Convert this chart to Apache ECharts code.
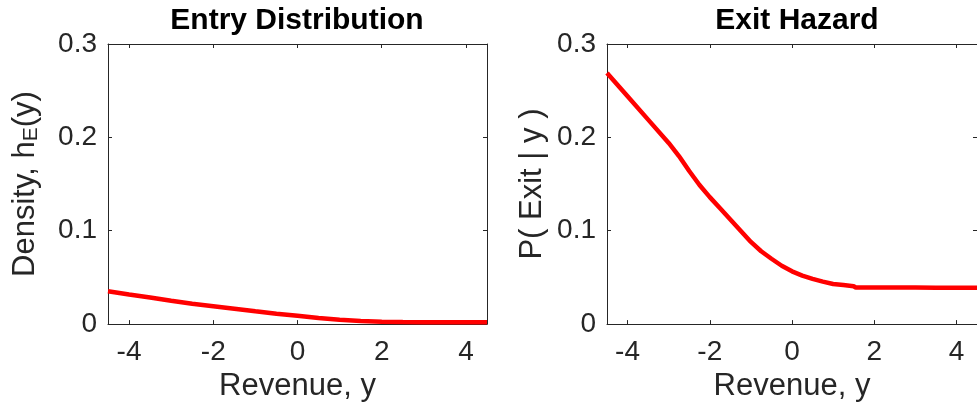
<!DOCTYPE html>
<html>
<head>
<meta charset="utf-8" />
<title>Entry Distribution / Exit Hazard</title>
<script src="https://cdn.jsdelivr.net/npm/echarts@6/dist/echarts.min.js"></script>
<style>
  body { margin: 0; background: #fff; }
  #container { width: 977px; height: 407px; }
</style>
</head>
<body>
<div id="container"></div>
<script>
// revenue grid shared by both panels
var xTicks = [-4, -2, 0, 2, 4];
var yTicks = [0, 0.1, 0.2, 0.3];

// entry distribution h_E(y)
var entryX = [-4.5, -4, -3.5, -3, -2.5, -2, -1.5, -1, -0.5, 0, 0.5, 1, 1.5, 2, 2.5, 3, 3.5, 4, 4.5];
var entryY = [0.0351, 0.0316, 0.0285, 0.0250, 0.0218, 0.0192, 0.0165, 0.0137, 0.0112, 0.0089,
              0.0066, 0.0046, 0.0032, 0.0025, 0.0022, 0.0021, 0.0021, 0.0021, 0.0021];

// exit hazard P(Exit | y)
var exitX = [-4.5, -4, -3.5, -3, -2.75, -2.5, -2.25, -2, -1.75, -1.5, -1.25, -1, -0.75, -0.5, -0.25,
             0, 0.25, 0.5, 0.75, 1, 1.25, 1.5, 1.55, 2, 2.5, 3, 3.5, 4, 4.5];
var exitY = [0.269, 0.244, 0.219, 0.194, 0.180, 0.164, 0.149, 0.136, 0.124, 0.112, 0.100, 0.088, 0.078, 0.070, 0.0625,
             0.0565, 0.052, 0.0485, 0.0455, 0.043, 0.0418, 0.0405, 0.0392, 0.0392, 0.0392, 0.0391, 0.039, 0.039, 0.0388];

function pairs(xs, ys) {
  return xs.map(function (x, i) { return [x, ys[i]]; });
}

var FONT = '"Liberation Sans", Arial, sans-serif';
var AX = '#262626';

function xAxisFor(gi, show) {
  return {
    type: 'value', gridIndex: gi, min: -4.5, max: 4.5,
    position: show ? 'bottom' : 'top',
    name: show ? 'Revenue, y' : '', nameLocation: 'middle', nameGap: 46,
    nameTextStyle: { fontFamily: FONT, fontSize: 31, color: AX },
    axisLine: { show: true, onZero: false, lineStyle: { color: AX, width: 1 } },
    axisTick: { show: true, inside: true, length: 4, customValues: xTicks, lineStyle: { color: AX } },
    axisLabel: {
      show: show, margin: 14, fontFamily: FONT, fontSize: 28, color: AX,
      customValues: xTicks, formatter: function (v) { return v < 0 ? '-' + Math.abs(v) : String(v); }
    },
    splitLine: { show: false }
  };
}

function yAxisFor(gi, show, name, gap, rich) {
  return {
    type: 'value', gridIndex: gi, min: 0, max: 0.3, interval: 0.1,
    position: show ? 'left' : 'right',
    name: show ? name : '', nameLocation: 'middle', nameGap: gap, nameRotate: 90,
    nameTextStyle: { fontFamily: FONT, fontSize: 31, color: AX, rich: rich },
    axisLine: { show: true, onZero: false, lineStyle: { color: AX, width: 1 } },
    axisTick: { show: true, inside: true, length: 4, lineStyle: { color: AX } },
    axisLabel: {
      show: show, margin: 11, fontFamily: FONT, fontSize: 28, color: AX,
      formatter: function (v) { return v === 0 ? '0' : v.toFixed(1); }
    },
    splitLine: { show: false }
  };
}

var subRich = {
  a: { fontFamily: FONT, fontSize: 31, color: AX },
  s: { fontFamily: FONT, fontSize: 21, color: AX, padding: [13, 0, 0, 0] }
};

var myChart = echarts.init(document.getElementById('container'));
var option = {
  animation: false,
  backgroundColor: '#fff',
  title: [
    { text: 'Entry Distribution', left: 297, top: 6, textAlign: 'center', padding: 0,
      textStyle: { fontFamily: FONT, fontSize: 30, fontWeight: 'bold', color: '#000' } },
    { text: 'Exit Hazard', left: 797, top: 6, textAlign: 'center', padding: 0,
      textStyle: { fontFamily: FONT, fontSize: 30, fontWeight: 'bold', color: '#000' } }
  ],
  grid: [
    { left: 108, top: 44, width: 379, height: 282 },
    { left: 607, top: 44, width: 381, height: 282 }
  ],
  xAxis: [xAxisFor(0, true), xAxisFor(0, false), xAxisFor(1, true), xAxisFor(1, false)],
  yAxis: [
    yAxisFor(0, true, '{a|Density, h}{s|E}{a|(y)}', 66, subRich),
    yAxisFor(0, false, '', 0),
    yAxisFor(1, true, 'P( Exit | y )', 59),
    yAxisFor(1, false, '', 0)
  ],
  series: [
    { type: 'line', xAxisIndex: 0, yAxisIndex: 0, data: pairs(entryX, entryY), showSymbol: false,
      lineStyle: { color: '#ff0000', width: 4.5 }, itemStyle: { color: '#ff0000' } },
    { type: 'line', xAxisIndex: 2, yAxisIndex: 2, data: pairs(exitX, exitY), showSymbol: false,
      lineStyle: { color: '#ff0000', width: 4.5 }, itemStyle: { color: '#ff0000' } }
  ]
};
myChart.setOption(option);
</script>
</body>
</html>
